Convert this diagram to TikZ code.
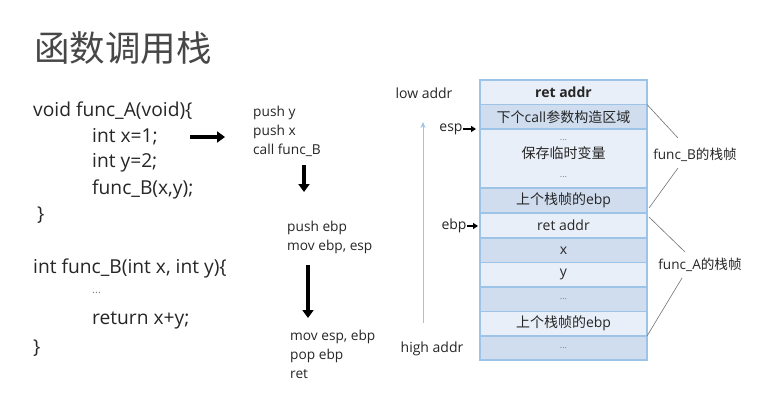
\documentclass[tikz,border=0pt]{standalone}
\usepackage{fontspec}
\setmainfont{Open Sans}
\newfontfamily\cjk{Noto Sans CJK SC}
\usetikzlibrary{arrows.meta}
\definecolor{rowL}{HTML}{E9EFF8}
\definecolor{rowD}{HTML}{CFDDEE}
\definecolor{bord}{HTML}{9DC3E6}
\definecolor{txt}{HTML}{262626}
\definecolor{dots}{HTML}{808080}
\begin{document}
\begin{tikzpicture}[x=1pt,y=-1pt,
  code/.style={anchor=west,inner sep=0,font=\fontsize{19.2}{22}\selectfont,text=txt},
  asm/.style={anchor=west,inner sep=0,font=\fontsize{13.7}{16}\selectfont,text=txt},
  lbl/.style={inner sep=0,font=\fontsize{14}{16}\selectfont,text=txt},
  cell/.style={draw=bord,line width=1.2pt,minimum width=167pt,inner sep=0,outer sep=0,anchor=north,align=center,font=\fontsize{14}{18.5}\selectfont,text=txt},
  bigarrow/.style={line width=3.6pt,-{Triangle[width=11pt,length=8pt]}},
  smallarrow/.style={line width=2pt,-{Triangle[width=6pt,length=5pt]}},
  vline/.style={draw=bord,line width=1pt,-{Stealth[width=5pt,length=6pt]}},
  brace/.style={draw=black!55,line width=0.6pt}
]
\useasboundingbox[fill=white] (0,0) rectangle (759,418);
\newcommand{\dt}{{\fontsize{9}{10}\selectfont\color{dots}...}}

% title
\node[anchor=west,inner sep=0,font=\cjk\fontsize{35.5}{38}\selectfont,text=black!72] (title) at (34,48) {函数调用栈};

% code
\node[code] (cA1) at (33,111) {void func\_A(void)\{};
\node[code] (cA2) at (92,137) {int x=1;};
\node[code] (cA3) at (92,163) {int y=2;};
\node[code] (cA4) at (92,189) {func\_B(x,y);};
\node[code] (cA5) at (37,215) {\}};
\node[code] (cB1) at (33,268) {int func\_B(int x, int y)\{};
\node[code,text=dots,font=\fontsize{11}{14}\selectfont] (cB2) at (92,293) {...};
\node[code] (cB3) at (92,320) {return x+y;};
\node[code] (cB4) at (33,348) {\}};

% assembly
\node[asm] (s1) at (253,113) {push y};
\node[asm] (s2) at (253,131.5) {push x};
\node[asm] (s3) at (253,150) {call func\_B};
\node[asm] (s4) at (287,228) {push ebp};
\node[asm] (s5) at (287,246.5) {mov ebp, esp};
\node[asm] (s6) at (290,337) {mov esp, ebp};
\node[asm] (s7) at (290,355.5) {pop ebp};
\node[asm] (s8) at (290,374) {ret};

\coordinate (ar1a) at (190,137);
\coordinate (ar1b) at (225,137);
\coordinate (ar2a) at (304,165);
\coordinate (ar2b) at (304,192);
\coordinate (ar3a) at (308,265);
\coordinate (ar3b) at (308,318);
\draw[bigarrow] (ar1a) -- (ar1b);
\draw[bigarrow] (ar2a) -- (ar2b);
\draw[bigarrow] (ar3a) -- (ar3b);

% stack
\node[cell,fill=rowL,minimum height=24.5pt] (r1) at (563.5,80) {\textbf{ret addr}};
\node[cell,fill=rowD,minimum height=24.5pt] (r2) at (r1.south) {{\cjk 下个}call{\cjk 参数构造区域}};
\node[cell,fill=rowL,minimum height=59pt] (r3) at (r2.south) {\dt\\{\cjk 保存临时变量}\\\dt};
\node[cell,fill=rowD,minimum height=25pt] (r4) at (r3.south) {{\cjk 上个栈帧的}ebp};
\node[cell,fill=rowL,minimum height=25pt] (r5) at (r4.south) {ret addr};
\node[cell,fill=rowD,minimum height=24.5pt] (r6) at (r5.south) {x};
\node[cell,fill=rowL,minimum height=24.5pt] (r7) at (r6.south) {y};
\node[cell,fill=rowD,minimum height=24.5pt] (r8) at (r7.south) {\dt};
\node[cell,fill=rowL,minimum height=24.5pt] (r9) at (r8.south) {{\cjk 上个栈帧的}ebp};
\node[cell,fill=rowD,minimum height=24pt] (r10) at (r9.south) {\dt};

% addr labels
\node[lbl] (low) at (424,93) {low addr};
\node[lbl] (high) at (432,349) {high addr};
\coordinate (vb) at (423,323);
\coordinate (vt) at (423,122);
\draw[vline] (vb) -- (vt);

\node[lbl] (esp) at (451,129) {esp};
\draw[smallarrow] (esp.east) -- ([xshift=-4]r3.north west |- esp);
\node[lbl] (ebp) at (454,226) {ebp};
\draw[smallarrow] (ebp.east) -- ([xshift=-2]r5.west |- ebp);

% frame labels
\node[lbl,font=\fontsize{13.6}{16}\selectfont] (fb) at (695,155) {func\_B{\cjk 的栈帧}};
\node[lbl,font=\fontsize{13.6}{16}\selectfont] (fa) at (700,265) {func\_A{\cjk 的栈帧}};
\coordinate (b1) at (678,138);
\coordinate (b2) at (678,168);
\coordinate (b3) at (649,208);
\coordinate (a1) at (649,217);
\coordinate (a2) at (685,252);
\coordinate (a3) at (682,278);
\draw[brace] (r2.north east) -- (b1);
\draw[brace] (b2) -- (b3);
\draw[brace] (a1) -- (a2);
\draw[brace] (a3) -- (r9.south east);
\end{tikzpicture}
\end{document}
